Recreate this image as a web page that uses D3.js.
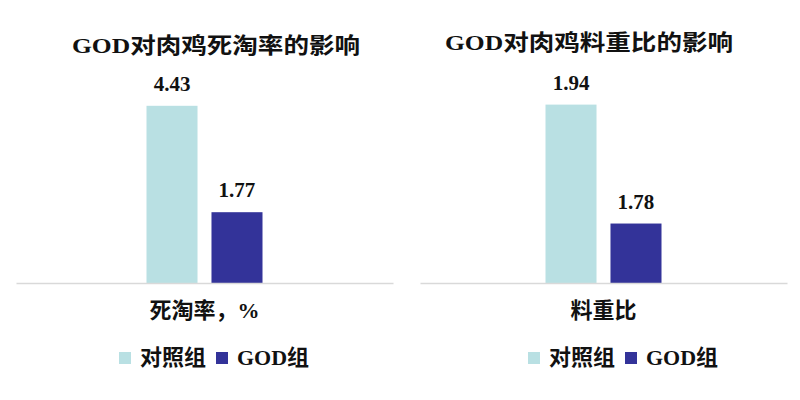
<!DOCTYPE html>
<html>
<head>
<meta charset="utf-8">
<script src="https://cdn.jsdelivr.net/npm/d3@7"></script>
<style>
  body { margin: 0; background: #fff; }
  text { font-family: "Liberation Serif", "Noto Sans CJK SC", serif; font-weight: bold; fill: #111; }
</style>
</head>
<body>
<div id="chart"></div>
<script>
// chart data
var titles = ["GOD对肉鸡死淘率的影响", "GOD对肉鸡料重比的影响"];
var categories = ["死淘率，%", "料重比"];
var groups = ["对照组", "GOD组"];
var controlValues = [4.43, 1.94];
var godValues = [1.77, 1.78];
var yMins = [0, 1.70];
var yMaxs = [5, 2.00];

var colors = { "对照组": "#b9e0e3", "GOD组": "#333399" };

// layout of the two panels
var panels = [
  { axis: [16, 393], top: 83, titleX: 216, titleY: 53, legendX: 119 },
  { axis: [420, 787], top: 60, titleX: 589, titleY: 50, legendX: 528 }
];
var baseY = 283;

var svg = d3.select("#chart").append("svg")
  .attr("width", 800).attr("height", 400);

panels.forEach(function(p, i) {
  var g = svg.append("g");
  var rows = [
    { group: groups[0], value: controlValues[i] },
    { group: groups[1], value: godValues[i] }
  ];

  var x0 = d3.scaleBand().domain([categories[i]]).range(p.axis);
  var c = x0(categories[i]) + x0.bandwidth() / 2;
  var x1 = d3.scaleBand().domain(groups).range([c - 58, c + 58]).paddingInner(0.215);
  var y = d3.scaleLinear().domain([yMins[i], yMaxs[i]]).range([baseY, p.top]);

  // title
  g.append("text")
    .attr("x", p.titleX).attr("y", p.titleY)
    .attr("text-anchor", "middle")
    .attr("font-size", 22)
    .attr("textLength", 288).attr("lengthAdjust", "spacingAndGlyphs")
    .text(titles[i]);

  // bars
  g.selectAll("rect.bar").data(rows).enter()
    .append("rect").attr("class", "bar")
    .attr("x", function(d) { return x1(d.group); })
    .attr("width", x1.bandwidth())
    .attr("y", function(d) { return y(d.value); })
    .attr("height", function(d) { return baseY - y(d.value); })
    .attr("fill", function(d) { return colors[d.group]; });

  // value labels
  g.selectAll("text.val").data(rows).enter()
    .append("text").attr("class", "val")
    .attr("x", function(d) { return x1(d.group) + x1.bandwidth() / 2; })
    .attr("y", function(d) { return y(d.value) - 15; })
    .attr("text-anchor", "middle")
    .attr("font-size", 21)
    .text(function(d) { return d.value.toFixed(2); });

  // category axis
  var ax = g.append("g")
    .attr("transform", "translate(0," + baseY + ")")
    .call(d3.axisBottom(x0).tickSize(0).tickSizeOuter(0));
  ax.select(".domain").attr("stroke", "#d9d9d9").attr("stroke-width", 1.5);
  ax.selectAll("text")
    .attr("y", 35).attr("dy", 0)
    .attr("font-size", 22)
    .attr("font-family", "Liberation Serif, Noto Sans CJK SC, serif")
    .attr("fill", "#111");

  // legend
  var lx = [p.legendX, p.legendX + 97];
  var leg = g.selectAll("g.leg").data(groups).enter()
    .append("g").attr("class", "leg")
    .attr("transform", function(d, j) { return "translate(" + lx[j] + ",352)"; });
  leg.append("rect")
    .attr("width", 12).attr("height", 12)
    .attr("fill", function(d) { return colors[d]; });
  leg.append("text")
    .attr("x", 21).attr("y", 13)
    .attr("font-size", 22)
    .text(function(d) { return d; });
});
</script>
</body>
</html>
